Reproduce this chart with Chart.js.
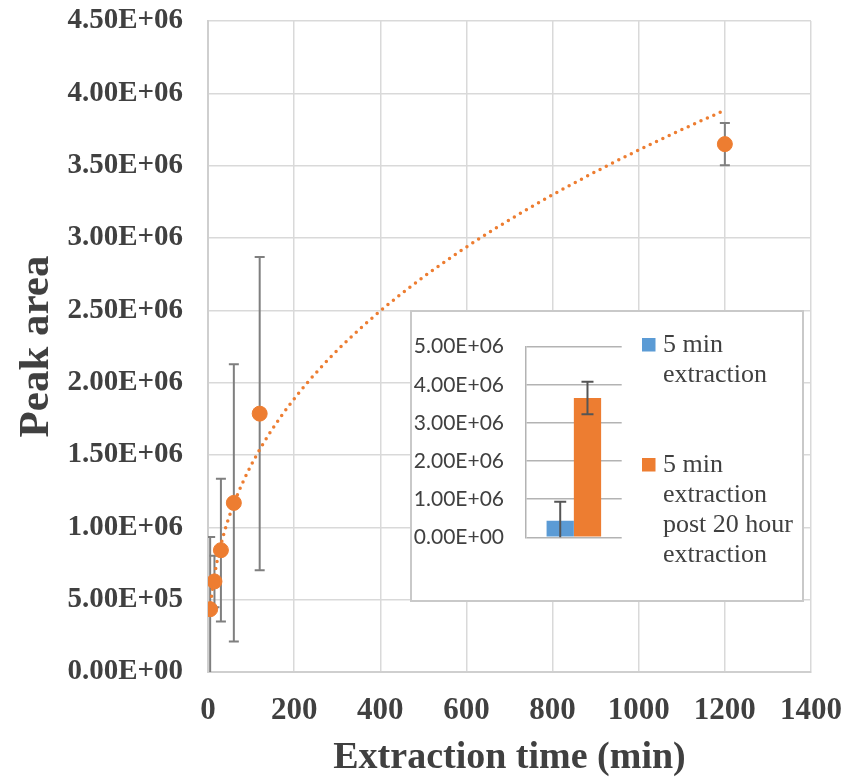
<!DOCTYPE html>
<html>
<head>
<meta charset="utf-8">
<script src="https://cdn.jsdelivr.net/npm/chart.js@4/dist/chart.umd.min.js"></script>
<style>
  html, body { margin: 0; padding: 0; background: #ffffff; }
  #wrap { position: relative; width: 859px; height: 783px; overflow: hidden; }
  #main { position: absolute; left: 0; top: 0; }
  #insetBox {
    position: absolute; left: 410px; top: 310px; width: 394px; height: 292px;
    box-sizing: border-box; border: 2px solid #c9c9c9; background: #ffffff;
  }
  #inset { display: block; }
</style>
</head>
<body>
<div id="wrap">
  <canvas id="main" width="859" height="783"></canvas>
  <div id="insetBox"><canvas id="inset" width="390" height="288"></canvas></div>
</div>
<script>
// Peak area against extraction time (minutes), mean ± error
const extractionTimes = [5, 15, 30, 60, 120, 1200];
const peakAreas       = [0.434e6, 0.626e6, 0.842e6, 1.169e6, 1.786e6, 3.649e6];
const peakAreaErrors  = [0.500e6, 0.178e6, 0.493e6, 0.958e6, 1.082e6, 0.146e6];

// Inset: 5 min extraction alone vs. after a 20 hour extraction
const insetLabels = [["5 min", "extraction"], ["5 min", "extraction", "post 20 hour", "extraction"]];
const insetValues = [0.435e6, 3.654e6];
const insetErrors = [0.499e6, 0.428e6];

const ORANGE = '#ED7D31';
const BLUE = '#5B9BD5';
const TEXT = '#404040';
const SERIF = '"Liberation Serif", "Times New Roman", serif';
const CLEAR = 'rgba(0,0,0,0)';

function sciLabel(v) {
  if (v === 0) return '0.00E+00';
  const e = Math.floor(Math.log10(v) + 1e-9);
  const m = v / Math.pow(10, e);
  return m.toFixed(2) + 'E+' + String(e).padStart(2, '0');
}

// Power-law trendline y = a * x^b fitted in log-log space
function powerFit(xs, ys) {
  const n = xs.length;
  let sx = 0, sy = 0, sxx = 0, sxy = 0;
  for (let i = 0; i < n; i++) {
    const lx = Math.log(xs[i]), ly = Math.log(ys[i]);
    sx += lx; sy += ly; sxx += lx * lx; sxy += lx * ly;
  }
  const b = (n * sxy - sx * sy) / (n * sxx - sx * sx);
  const a = Math.exp((sy - b * sx) / n);
  return { a, b };
}
const fit = powerFit(extractionTimes, peakAreas);
const xFirst = extractionTimes[0], xLast = extractionTimes[extractionTimes.length - 1];
const trendPoints = [];
for (let i = 0; i <= 160; i++) {
  const x = xFirst * Math.pow(xLast / xFirst, i / 160);
  trendPoints.push({ x, y: fit.a * Math.pow(x, fit.b) });
}

const errorBarsPlugin = {
  id: 'errorBars',
  beforeDatasetsDraw(chart) {
    const { ctx, chartArea, scales } = chart;
    const meta = chart.getDatasetMeta(0);
    ctx.save();
    ctx.beginPath();
    ctx.rect(chartArea.left, chartArea.top, chartArea.right - chartArea.left, chartArea.bottom - chartArea.top);
    ctx.clip();
    ctx.strokeStyle = '#7f7f7f';
    ctx.lineWidth = 2;
    meta.data.forEach((pt, i) => {
      const x = pt.x;
      const yTop = scales.y.getPixelForValue(peakAreas[i] + peakAreaErrors[i]);
      const yBot = scales.y.getPixelForValue(peakAreas[i] - peakAreaErrors[i]);
      ctx.beginPath();
      ctx.moveTo(x, yTop); ctx.lineTo(x, yBot);
      ctx.moveTo(x - 5, yTop); ctx.lineTo(x + 5, yTop);
      ctx.moveTo(x - 5, yBot); ctx.lineTo(x + 5, yBot);
      ctx.stroke();
    });
    ctx.restore();
  }
};

new Chart(document.getElementById('main'), {
  type: 'scatter',
  data: {
    datasets: [
      {
        label: 'Peak area',
        data: extractionTimes.map((x, i) => ({ x, y: peakAreas[i] })),
        backgroundColor: ORANGE,
        borderColor: ORANGE,
        pointRadius: 7.5,
        pointHoverRadius: 7.5,
        order: 0
      },
      {
        label: 'Power trend',
        data: trendPoints,
        showLine: true,
        borderColor: ORANGE,
        borderWidth: 3.5,
        borderDash: [0, 7],
        borderCapStyle: 'round',
        pointRadius: 0,
        fill: false,
        order: 1
      }
    ]
  },
  options: {
    responsive: false,
    animation: false,
    layout: { padding: { left: 0, right: 48, top: 21, bottom: 0 } },
    plugins: { legend: { display: false }, tooltip: { enabled: false } },
    scales: {
      x: {
        type: 'linear', min: 0, max: 1400,
        afterFit: s => { s.height = 111; },
        ticks: { stepSize: 200, padding: 0, color: TEXT, callback: v => String(v),
                 font: { family: SERIF, size: 31, weight: 'bold' } },
        grid: { color: '#d9d9d9', lineWidth: 1.5, drawTicks: true, tickLength: 20, tickColor: CLEAR },
        border: { color: '#cfcfcf', width: 2 },
        title: { display: true, text: 'Extraction time (min)', color: TEXT,
                 font: { family: SERIF, size: 38, weight: 'bold' }, padding: { top: 0, bottom: 2 } }
      },
      y: {
        type: 'linear', min: 0, max: 4.5e6,
        afterFit: s => { s.width = 208; },
        ticks: { stepSize: 5e5, padding: 0, color: TEXT, callback: v => sciLabel(v),
                 font: { family: SERIF, size: 29, weight: 'bold' } },
        grid: { color: '#d9d9d9', lineWidth: 1.5, drawTicks: true, tickLength: 25, tickColor: CLEAR },
        border: { color: '#cfcfcf', width: 2 },
        title: { display: true, text: 'Peak area', color: TEXT,
                 font: { family: SERIF, size: 43, weight: 'bold' }, padding: { top: 11, bottom: 0 } }
      }
    }
  },
  plugins: [errorBarsPlugin]
});

const insetErrorPlugin = {
  id: 'insetErrors',
  afterDatasetsDraw(chart) {
    const { ctx, chartArea, scales } = chart;
    ctx.save();
    ctx.beginPath();
    ctx.rect(chartArea.left, chartArea.top, chartArea.right - chartArea.left, chartArea.bottom - chartArea.top);
    ctx.clip();
    ctx.strokeStyle = '#555555';
    ctx.lineWidth = 2;
    chart.data.datasets.forEach((ds, i) => {
      const bar = chart.getDatasetMeta(i).data[0];
      const x = bar.x;
      const yTop = scales.y.getPixelForValue(insetValues[i] + insetErrors[i]);
      const yBot = scales.y.getPixelForValue(insetValues[i] - insetErrors[i]);
      ctx.beginPath();
      ctx.moveTo(x, yTop); ctx.lineTo(x, yBot);
      ctx.moveTo(x - 6, yTop); ctx.lineTo(x + 6, yTop);
      ctx.moveTo(x - 6, yBot); ctx.lineTo(x + 6, yBot);
      ctx.stroke();
    });
    ctx.restore();
  }
};

const insetLegendPlugin = {
  id: 'insetLegend',
  afterDraw(chart) {
    const { ctx } = chart;
    const itemTops = [33, 153];
    const lineStep = 30;
    ctx.save();
    ctx.font = '26px ' + SERIF;
    ctx.textBaseline = 'middle';
    ctx.textAlign = 'left';
    chart.data.datasets.forEach((ds, i) => {
      const y0 = itemTops[i];
      ctx.fillStyle = ds.backgroundColor;
      ctx.fillRect(230, y0 - 7, 13.5, 13.5);
      ctx.fillStyle = TEXT;
      ds.label.forEach((line, k) => ctx.fillText(line, 251, y0 + k * lineStep));
    });
    ctx.restore();
  }
};

new Chart(document.getElementById('inset'), {
  type: 'bar',
  data: {
    labels: [''],
    datasets: [
      { label: insetLabels[0], data: [insetValues[0]], backgroundColor: BLUE,
        categoryPercentage: 0.57, barPercentage: 1.0 },
      { label: insetLabels[1], data: [insetValues[1]], backgroundColor: ORANGE,
        categoryPercentage: 0.57, barPercentage: 1.0 }
    ]
  },
  options: {
    responsive: false,
    animation: false,
    layout: { padding: { left: 0, right: 180.3, top: 34.7, bottom: 62.7 } },
    plugins: { legend: { display: false }, tooltip: { enabled: false } },
    scales: {
      x: { display: false },
      y: {
        min: 0, max: 5e6,
        afterFit: s => { s.width = 114; },
        ticks: { stepSize: 1e6, padding: 0, color: TEXT, callback: v => sciLabel(v),
                 font: { family: 'Lato, "Liberation Sans", sans-serif', size: 21 } },
        grid: { color: '#b3b3b3', lineWidth: 1.5, drawTicks: true, tickLength: 22, tickColor: CLEAR },
        border: { color: '#b3b3b3', width: 1.5 }
      }
    }
  },
  plugins: [insetErrorPlugin, insetLegendPlugin]
});
</script>
</body>
</html>
